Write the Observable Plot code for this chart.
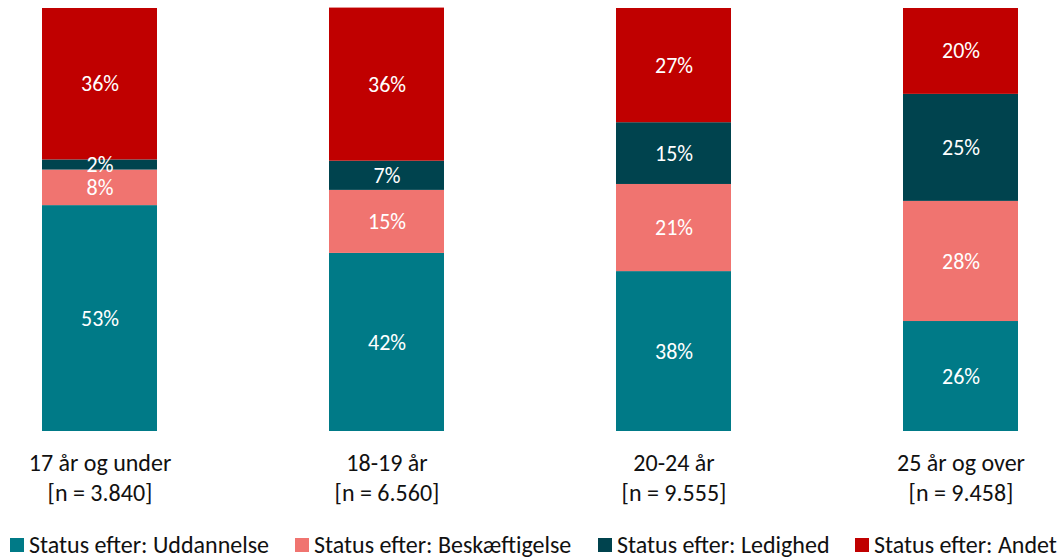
<!DOCTYPE html>
<html>
<head>
<meta charset="utf-8">
<script src="https://cdn.jsdelivr.net/npm/d3@7"></script>
<script src="https://cdn.jsdelivr.net/npm/@observablehq/plot@0.6"></script>
<style>
  html, body { margin: 0; padding: 0; background: #fff; }
  body { width: 1064px; height: 557px; overflow: hidden; font-family: Carlito, Lato, sans-serif; }
  #chart svg { display: block; }
  #legend { position: relative; height: 29px; font-size: 24px; line-height: 1; color: #111; }
  .item { position: absolute; top: 0; height: 34px; display: flex; align-items: center; white-space: nowrap; }
  .sw { width: 14px; height: 14px; margin-right: 5px; }
</style>
</head>
<body>
<div id="chart"></div>
<div id="legend"></div>
<script>
const groups = ["17 år og under", "18-19 år", "20-24 år", "25 år og over"];
const counts = ["3.840", "6.560", "9.555", "9.458"];
const series = ["Status efter: Uddannelse", "Status efter: Beskæftigelse", "Status efter: Ledighed", "Status efter: Andet"];
const colors = ["#007A87", "#F07470", "#00434E", "#C00000"];
const uddannelse = [53.4, 42.1, 37.8, 26.0];
const beskaeftigelse = [8.4, 14.9, 20.6, 28.4];
const ledighed = [2.4, 6.9, 14.6, 25.3];
const andet = [35.8, 36.2, 27.0, 20.3];

const valueSets = [uddannelse, beskaeftigelse, ledighed, andet];
const data = [];
series.forEach((s, si) => groups.forEach((g, gi) => data.push({group: g, series: s, value: valueSets[si][gi]})));

const plot = Plot.plot({
  width: 1064,
  height: 528,
  marginLeft: 41,
  marginRight: 45,
  marginTop: 8,
  marginBottom: 97,
  style: {fontFamily: "Carlito, Lato, sans-serif", background: "#fff"},
  x: {domain: groups, paddingInner: 0.6, paddingOuter: 0, label: null},
  y: {domain: [0, 100], axis: null},
  color: {domain: series, range: colors},
  marks: [
    Plot.barY(data, {x: "group", y: "value", fill: "series", order: series}),
    Plot.text(data, Plot.stackY({x: "group", y: "value", z: "series", order: series, text: d => Math.round(d.value) + "%", fill: "white", fontSize: 22})),
    Plot.axisX({
      tickSize: 0,
      tickPadding: 18,
      fontSize: 24,
      lineHeight: 1.25,
      fill: "#111",
      tickFormat: (d) => `${d}\n[n = ${counts[groups.indexOf(d)]}]`
    })
  ]
});
document.getElementById("chart").appendChild(plot);

const legendLeft = [10, 295, 598, 855];
const legend = document.getElementById("legend");
series.forEach((s, i) => {
  const item = document.createElement("div");
  item.className = "item";
  item.style.left = legendLeft[i] + "px";
  item.innerHTML = `<div class="sw" style="background:${colors[i]}"></div><span>${s}</span>`;
  legend.appendChild(item);
});
</script>
</body>
</html>
